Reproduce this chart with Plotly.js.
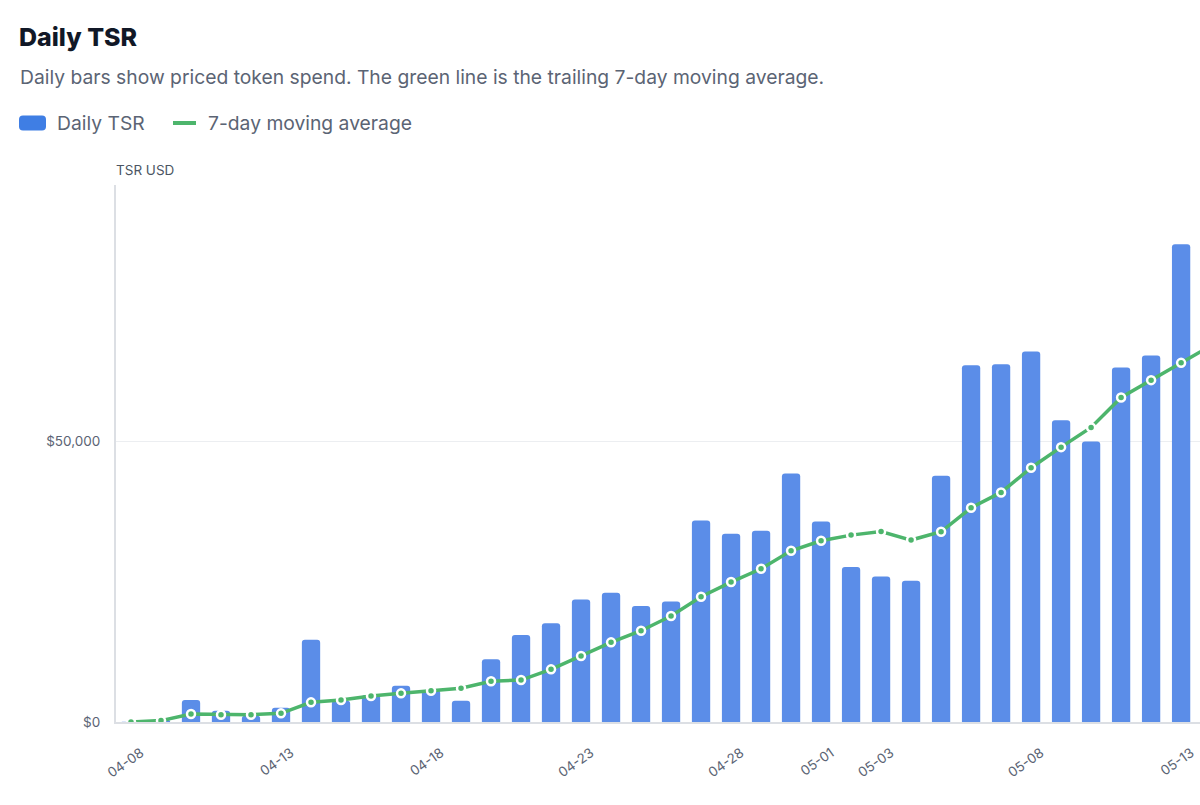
<!DOCTYPE html>
<html>
<head>
<meta charset="utf-8">
<script src="https://cdn.plot.ly/plotly-3.0.1.min.js"></script>
<style>
	html, body { margin: 0; padding: 0; background: #ffffff; overflow: hidden; }
	#chart { width: 1200px; height: 805px; }
</style>
</head>
<body>
<div id="chart"></div>
<script>
// days shown on the x axis (last one runs off the right edge)
const days = ["04-08", "04-09", "04-10", "04-11", "04-12", "04-13", "04-14", "04-15", "04-16", "04-17",
	"04-18", "04-19", "04-20", "04-21", "04-22", "04-23", "04-24", "04-25", "04-26", "04-27",
	"04-28", "04-29", "04-30", "05-01", "05-02", "05-03", "05-04", "05-05", "05-06", "05-07",
	"05-08", "05-09", "05-10", "05-11", "05-12", "05-13", "05-14"];

// daily TSR in USD
const dailyTsr = [40, 420, 3900, 2000, 1100, 2550, 14650, 3800, 4800, 6450,
	5700, 3800, 11150, 15480, 17560, 21830, 23010, 20640, 21470, 35890,
	33510, 34050, 44250, 35710, 27600, 25900, 25150, 43830, 63530, 63700,
	65960, 53740, 49940, 63110, 65250, 85050, 85100];

// trailing 7-day moving average
const movingAvg = [0, 250, 1420, 1300, 1300, 1540, 3500, 3900, 4620, 5100,
	5570, 6000, 7240, 7470, 9370, 11740, 14180, 16250, 18860, 22300,
	24910, 27280, 30490, 32270, 33270, 33900, 32390, 33870, 38140, 40870,
	45260, 48930, 52440, 57770, 60860, 63940, 67000];

const tickDays = ["04-08", "04-13", "04-18", "04-23", "04-28", "05-01", "05-03", "05-08", "05-13"];
const yTicks = [0, 50000];
const yTickText = ["$0", "$50,000"];

const barColor = "#5b8de8";
const lineColor = "#4db56c";
const font = "Inter, 'Noto Sans', sans-serif";

// plot box in pixels, used to place the legend bits outside it
const plotL = 116, plotR = 1200, plotT = 185, plotB = 722;
const px = x => (x - plotL) / (plotR - plotL);
const py = y => (plotB - y) / (plotB - plotT);

// rounded rectangle path in paper coords, for the bar legend swatch
function roundRect(x0, y0, x1, y1, r) {
	const rx = r / (plotR - plotL), ry = r / (plotB - plotT);
	const a = px(x0), b = px(x1), top = py(y0), bot = py(y1);
	return "M" + (a + rx) + "," + top + " L" + (b - rx) + "," + top +
		" Q" + b + "," + top + " " + b + "," + (top - ry) +
		" L" + b + "," + (bot + ry) +
		" Q" + b + "," + bot + " " + (b - rx) + "," + bot +
		" L" + (a + rx) + "," + bot +
		" Q" + a + "," + bot + " " + a + "," + (bot + ry) +
		" L" + a + "," + (top - ry) +
		" Q" + a + "," + top + " " + (a + rx) + "," + top + " Z";
}

const data = [{
		type: "bar",
		name: "Daily TSR",
		x: days,
		y: dailyTsr,
		marker: { color: barColor, cornerradius: 3 },
		hoverinfo: "x+y"
	},
	{
		type: "scatter",
		mode: "lines+markers",
		name: "7-day moving average",
		x: days,
		y: movingAvg,
		line: { color: lineColor, width: 3.5 },
		marker: { color: lineColor, size: 8, line: { color: "#ffffff", width: 2.5 } },
		cliponaxis: true
	}
];

const layout = {
	width: 1200,
	height: 805,
	margin: { l: plotL, r: 1200 - plotR, t: plotT, b: 805 - plotB },
	paper_bgcolor: "#ffffff",
	plot_bgcolor: "#ffffff",
	showlegend: false,
	bargap: 0.39,
	font: { family: font, color: "#5b6474" },
	title: {
		text: "Daily TSR",
		xref: "container", yref: "container",
		x: 19 / 1200, xanchor: "left",
		y: 1 - 37 / 805, yanchor: "middle",
		font: { family: font, size: 25, weight: 800, color: "#111827" }
	},
	xaxis: {
		type: "category",
		range: [-0.5, 35.63],
		tickmode: "array",
		tickvals: tickDays,
		ticktext: tickDays,
		tickangle: -35,
		tickfont: { size: 13.5, color: "#5b6474" },
		ticks: "",
		ticklabelstandoff: 16,
		ticklabelshift: 10,
		showgrid: false,
		showline: true,
		linecolor: "#dcdfe4",
		linewidth: 2,
		fixedrange: true
	},
	yaxis: {
		range: [0, 95600],
		tickmode: "array",
		tickvals: yTicks,
		ticktext: yTickText,
		tickfont: { size: 13.5, color: "#5b6474" },
		ticks: "",
		ticklabelstandoff: 11,
		gridcolor: "#eceef1",
		gridwidth: 1,
		zeroline: false,
		showline: true,
		linecolor: "#dcdfe4",
		linewidth: 2,
		fixedrange: true
	},
	annotations: [{
			text: "Daily bars show priced token spend. The green line is the trailing 7-day moving average.",
			xref: "paper", yref: "paper", x: px(18), y: py(77),
			xanchor: "left", yanchor: "middle", showarrow: false,
			font: { family: font, size: 19.3, color: "#5b6474" }
		},
		{
			text: "Daily TSR",
			xref: "paper", yref: "paper", x: px(55), y: py(123),
			xanchor: "left", yanchor: "middle", showarrow: false,
			font: { family: font, size: 19.3, color: "#5b6474" }
		},
		{
			text: "7-day moving average",
			xref: "paper", yref: "paper", x: px(206), y: py(123),
			xanchor: "left", yanchor: "middle", showarrow: false,
			font: { family: font, size: 19.3, color: "#5b6474" }
		},
		{
			text: "TSR USD",
			xref: "paper", yref: "paper", x: px(114), y: py(170),
			xanchor: "left", yanchor: "middle", showarrow: false,
			font: { family: font, size: 13.5, color: "#4b5563" }
		}
	],
	shapes: [{
			// legend swatch for the bars
			type: "path", xref: "paper", yref: "paper",
			path: roundRect(19, 115.5, 46, 130.5, 4),
			fillcolor: "#3f7ee4", line: { width: 0 }
		},
		{
			// legend swatch for the line
			type: "line", xref: "paper", yref: "paper",
			x0: px(173), x1: px(196), y0: py(123), y1: py(123),
			line: { color: lineColor, width: 4 }
		}
	]
};

Plotly.newPlot("chart", data, layout, { displayModeBar: false, staticPlot: true });
</script>
</body>
</html>
